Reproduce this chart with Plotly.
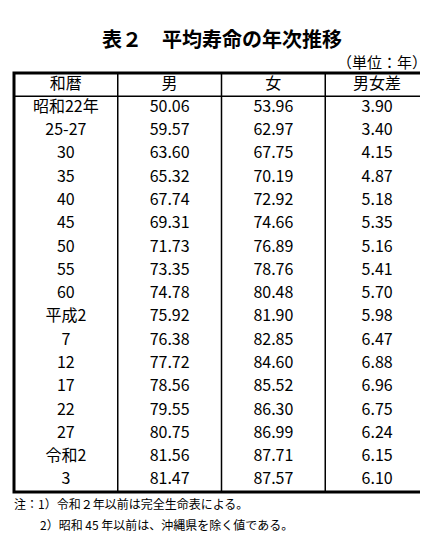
import plotly.graph_objects as go

headers = ['和暦', '男', '女', '男女差']
eras = ['昭和22年', '25-27', '30', '35', '40', '45', '50', '55', '60', '平成2',
        '7', '12', '17', '22', '27', '令和2', '3']
male = [50.06, 59.57, 63.60, 65.32, 67.74, 69.31, 71.73, 73.35, 74.78, 75.92,
        76.38, 77.72, 78.56, 79.55, 80.75, 81.56, 81.47]
female = [53.96, 62.97, 67.75, 70.19, 72.92, 74.66, 76.89, 78.76, 80.48, 81.90,
          82.85, 84.60, 85.52, 86.30, 86.99, 87.71, 87.57]
diff = [3.90, 3.40, 4.15, 4.87, 5.18, 5.35, 5.16, 5.41, 5.70, 5.98,
        6.47, 6.88, 6.96, 6.75, 6.24, 6.15, 6.10]

xs, ys, texts = [], [], []
for c, h in enumerate(headers):
    xs.append(c); ys.append(0); texts.append(h)
cols = [eras, [f'{v:.2f}' for v in male], [f'{v:.2f}' for v in female], [f'{v:.2f}' for v in diff]]
for c, col in enumerate(cols):
    for r, t in enumerate(col):
        xs.append(c); ys.append(r + 1); texts.append(t)

fig = go.Figure(go.Scatter(x=xs, y=ys, text=texts, mode='text',
                           textfont=dict(family='Noto Sans CJK JP', size=16, color='black'),
                           hoverinfo='skip', cliponaxis=False))

# table frame in pixels: left 6, right 421, top 65, bottom 484
L, R, T, B = 6/428, 421/428, 1 - 65/541, 1 - 484/541
fig.update_xaxes(range=[-0.5, 3.5], domain=[L, R], visible=False, fixedrange=True)
fig.update_yaxes(range=[17.5, -0.5], domain=[B, T], visible=False, fixedrange=True)

shapes = [dict(type='rect', xref='paper', yref='paper', x0=L, x1=R, y0=B, y1=T,
               line=dict(color='black', width=3))]
for i in [1, 2, 3]:
    xv = L + (R - L) * i / 4
    shapes.append(dict(type='line', xref='paper', yref='paper', x0=xv, x1=xv, y0=B, y1=T,
                       line=dict(color='black', width=1.5)))
hy = T - (T - B) / 18
shapes.append(dict(type='line', xref='paper', yref='paper', x0=L, x1=R, y0=hy, y1=hy,
                   line=dict(color='black', width=1.5)))

annotations = [
    dict(text='<b>表２　平均寿命の年次推移</b>', x=214/428, y=1 - 30/541, xref='paper', yref='paper',
         xanchor='center', yanchor='middle', showarrow=False,
         font=dict(family='Noto Sans CJK JP', size=20, color='black')),
    dict(text='（単位：年）', x=421/428, y=1 - 53/541, xref='paper', yref='paper',
         xanchor='right', yanchor='middle', showarrow=False,
         font=dict(family='Noto Sans CJK JP', size=15, color='black')),
    dict(text='注：1）令和２年以前は完全生命表による。', x=4/428, y=1 - 495/541, xref='paper', yref='paper',
         xanchor='left', yanchor='middle', showarrow=False,
         font=dict(family='Noto Sans CJK JP', size=12, color='black')),
    dict(text='2）昭和 45 年以前は、沖縄県を除く値である。', x=30/428, y=1 - 516/541, xref='paper', yref='paper',
         xanchor='left', yanchor='middle', showarrow=False,
         font=dict(family='Noto Sans CJK JP', size=12, color='black')),
]

fig.update_layout(width=428, height=541, margin=dict(l=0, r=0, t=0, b=0),
                  plot_bgcolor='white', paper_bgcolor='white', showlegend=False,
                  shapes=shapes, annotations=annotations)

fig.write_html('out.html', config={'displayModeBar': False})
